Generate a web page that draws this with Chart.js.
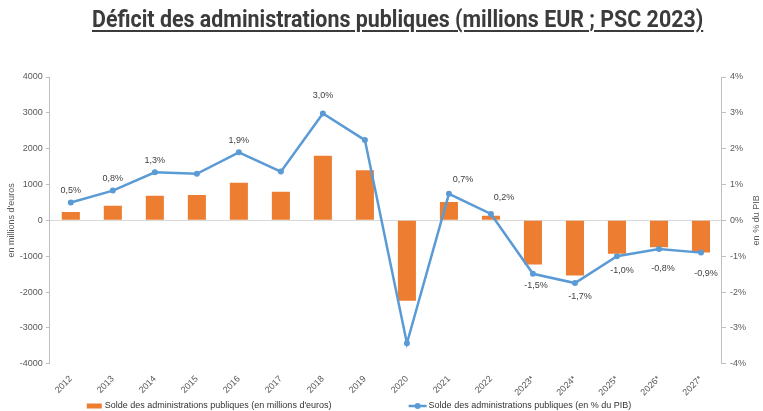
<!DOCTYPE html>
<html lang="fr">
<head>
<meta charset="UTF-8">
<script src="https://cdn.jsdelivr.net/npm/chart.js@4/dist/chart.umd.min.js"></script>
<style>
  html, body { margin: 0; padding: 0; background: #fff; }
  .wrap { position: relative; width: 763px; height: 411px; overflow: hidden; }
  h1 {
    position: absolute; top: 5px; left: 92px; margin: 0;
    white-space: nowrap; transform-origin: 0 0;
    font-family: Roboto, "Open Sans", sans-serif;
    font-weight: bold; font-size: 24px; line-height: 28px;
    color: #3b3b3b; text-decoration: underline; text-decoration-thickness: 2px;
    text-underline-offset: 3px;
  }
  canvas { position: absolute; top: 0; left: 0; }
</style>
</head>
<body>
<div class="wrap">
  <canvas id="graph" width="763" height="411"></canvas>
  <h1 id="titre">Déficit des administrations publiques (millions EUR ; PSC 2023)</h1>
</div>
<script>
  var annees = ['2012', '2013', '2014', '2015', '2016', '2017', '2018', '2019', '2020', '2021', '2022', '2023*', '2024*', '2025*', '2026*', '2027*'];
  var soldeMillions = [230, 410, 690, 710, 1050, 800, 1800, 1400, -2240, 510, 130, -1230, -1540, -930, -750, -900];
  var soldePib = [0.5, 0.83, 1.34, 1.3, 1.9, 1.36, 2.98, 2.24, -3.43, 0.74, 0.18, -1.49, -1.75, -1.0, -0.8, -0.9];
  var etiquettes = ['0,5%', '0,8%', '1,3%', null, '1,9%', null, '3,0%', null, null, '0,7%', '0,2%', '-1,5%', '-1,7%', '-1,0%', '-0,8%', '-0,9%'];
  var ticksMillions = [4000, 3000, 2000, 1000, 0, -1000, -2000, -3000, -4000];

  var orange = '#ED7D31';
  var bleu = '#5B9BD5';
  var gris = '#595959';
  var police = '"Liberation Sans", Arial, sans-serif';

  // titre condense a la largeur de l'original
  var titre = document.getElementById('titre');
  titre.style.transform = 'scaleX(' + (611 / titre.offsetWidth) + ')';

  // petites corrections de position des etiquettes (dx, dy)
  var decalages = [[0, -12], [0, -12], [0, -12], null, [0, -12], null, [0, -18], null, null,
    [14, -14], [13, -16], [3, 12], [5, 13], [5, 14], [4, 19], [5, 21]];

  var etiquettesPlugin = {
    id: 'etiquettes',
    afterDatasetsDraw: function (chart) {
      var meta = chart.getDatasetMeta(1);
      var ctx = chart.ctx;
      ctx.save();
      ctx.font = '9px ' + police;
      ctx.fillStyle = '#404040';
      ctx.textAlign = 'center';
      ctx.textBaseline = 'middle';
      meta.data.forEach(function (pt, i) {
        if (!etiquettes[i]) return;
        var d = decalages[i];
        ctx.fillText(etiquettes[i], pt.x + d[0], pt.y + d[1]);
      });
      ctx.restore();
    }
  };

  // legende en bas + titre de l'axe de droite (lu de bas en haut)
  var legendePlugin = {
    id: 'legende',
    afterDraw: function (chart) {
      var ctx = chart.ctx;
      var ds = chart.data.datasets;
      ctx.save();
      ctx.font = '9px ' + police;
      ctx.textBaseline = 'middle';
      var w1 = ctx.measureText(ds[0].label).width;
      var w2 = ctx.measureText(ds[1].label).width;
      var total = 18 + w1 + 77 + 20 + w2;
      var x = 359 - total / 2;
      var y = 406;
      ctx.fillStyle = orange;
      ctx.fillRect(x, y - 2.5, 15, 5);
      ctx.fillStyle = '#333';
      ctx.fillText(ds[0].label, x + 18, y);
      x += 18 + w1 + 77;
      ctx.strokeStyle = bleu;
      ctx.lineWidth = 2.5;
      ctx.beginPath();
      ctx.moveTo(x, y);
      ctx.lineTo(x + 18, y);
      ctx.stroke();
      ctx.fillStyle = bleu;
      ctx.beginPath();
      ctx.arc(x + 9, y, 3, 0, Math.PI * 2);
      ctx.fill();
      ctx.fillStyle = '#333';
      ctx.fillText(ds[1].label, x + 20, y);

      var a = chart.chartArea;
      ctx.translate(chart.width - 6, (a.top + a.bottom) / 2);
      ctx.rotate(-Math.PI / 2);
      ctx.textAlign = 'center';
      ctx.fillStyle = gris;
      ctx.fillText('en % du PIB', 0, 0);
      ctx.restore();
    }
  };

  var config = {
    data: {
      labels: annees,
      datasets: [{
        type: 'bar',
        label: "Solde des administrations publiques (en millions d'euros)",
        data: soldeMillions,
        backgroundColor: orange,
        yAxisID: 'y',
        barPercentage: 0.43,
        categoryPercentage: 1,
        order: 2
      }, {
        type: 'line',
        label: 'Solde des administrations publiques (en % du PIB)',
        data: soldePib,
        borderColor: bleu,
        backgroundColor: bleu,
        borderWidth: 2.5,
        pointRadius: 3,
        pointBackgroundColor: bleu,
        pointBorderWidth: 0,
        tension: 0,
        yAxisID: 'y1',
        order: 1
      }]
    },
    options: {
      responsive: false,
      animation: false,
      layout: { padding: { top: 77, left: 6, right: 13, bottom: 11 } },
      plugins: {
        title: { display: false },
        tooltip: { enabled: false },
        legend: { display: false }
      },
      scales: {
        x: {
          offset: true,
          border: { display: false },
          grid: { display: false },
          ticks: {
            color: gris,
            font: { size: 9, family: police },
            minRotation: 45,
            maxRotation: 45,
            padding: 2
          }
        },
        y: {
          position: 'left',
          min: -4000,
          max: 4000,
          afterBuildTicks: function (axis) {
            axis.ticks = ticksMillions.map(function (v) { return { value: v }; });
          },
          border: { display: true, color: '#bfbfbf' },
          grid: {
            drawOnChartArea: true,
            tickLength: 4,
            tickColor: '#bfbfbf',
            color: function (c) { return c.tick && c.tick.value === 0 ? '#d9d9d9' : 'transparent'; }
          },
          ticks: {
            color: gris,
            font: { size: 9, family: police },
            padding: 3,
            callback: function (v) { return String(v); }
          },
          title: {
            display: true,
            text: "en millions d'euros",
            color: gris,
            font: { size: 9, family: police },
            padding: { top: 0, bottom: 0 }
          }
        },
        y1: {
          position: 'right',
          min: -4,
          max: 4,
          border: { display: true, color: '#bfbfbf' },
          grid: { drawOnChartArea: false, tickLength: 4, tickColor: '#bfbfbf' },
          ticks: {
            stepSize: 1,
            color: gris,
            font: { size: 9, family: police },
            padding: 4,
            callback: function (v) { return v + '%'; }
          }
        }
      }
    },
    plugins: [etiquettesPlugin, legendePlugin]
  };

  var ctx = document.getElementById('graph').getContext('2d');
  window.monGraphe = new Chart(ctx, config);
</script>
</body>
</html>
